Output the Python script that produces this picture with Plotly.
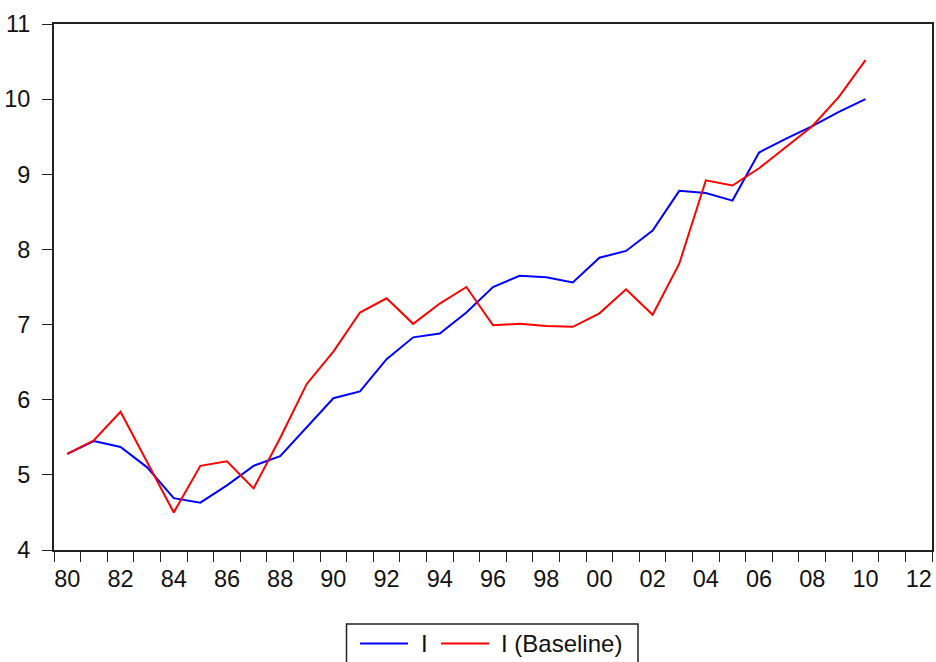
import plotly.graph_objects as go

years = list(range(1980, 2011))

i_actual = [5.28, 5.45, 5.37, 5.10, 4.69, 4.63, 4.86, 5.12, 5.25, 5.63,
            6.02, 6.11, 6.54, 6.83, 6.88, 7.16, 7.50, 7.65, 7.63, 7.56,
            7.89, 7.98, 8.25, 8.78, 8.75, 8.65, 9.29, 9.47, 9.64, 9.83,
            10.00]

i_baseline = [5.28, 5.46, 5.84, 5.16, 4.50, 5.12, 5.18, 4.82, 5.49, 6.21,
              6.64, 7.16, 7.35, 7.01, 7.28, 7.50, 6.99, 7.01, 6.98, 6.97,
              7.15, 7.47, 7.13, 7.81, 8.92, 8.85, 9.08, 9.36, 9.64, 10.03,
              10.52]

series_names = ["I", "I (Baseline)"]
series_colors = ["#0000ff", "#ff0000"]

label_years = list(range(1980, 2013, 2))
label_text = [f"{y % 100:02d}" for y in label_years]

# annual observations sit in the middle of each year's interval
x_mid = [y + 0.5 for y in years]

W, H = 936, 662
M_L, M_R, M_T, M_B = 54, 4, 24, 112
PLOT_W = W - M_L - M_R
PLOT_H = H - M_T - M_B


def px(x):
    """Page x pixel -> paper fraction."""
    return (x - M_L) / PLOT_W


def py(y):
    """Page y pixel -> paper fraction."""
    return (H - M_B - y) / PLOT_H


fig = go.Figure()
for vals, name, color in zip([i_actual, i_baseline], series_names, series_colors):
    fig.add_trace(go.Scatter(x=x_mid, y=vals, mode="lines", name=name,
                             line=dict(color=color, width=2), showlegend=False))

font_family = "Liberation Sans, Arial, sans-serif"

# framed legend box centred under the plot, open at the bottom edge of the page
shapes = [dict(type="rect", xref="paper", yref="paper",
               x0=px(346.5), x1=px(638), y0=py(690), y1=py(624),
               line=dict(color="#222222", width=1.5), fillcolor="white", layer="above")]
annotations = []
entries = [(360, 408, 419, series_names[0], series_colors[0]),
           (441, 489, 499, series_names[1], series_colors[1])]
for x0, x1, tx, name, color in entries:
    shapes.append(dict(type="line", xref="paper", yref="paper",
                       x0=px(x0), x1=px(x1), y0=py(643.5), y1=py(643.5),
                       line=dict(color=color, width=2)))
    annotations.append(dict(text=name, xref="paper", yref="paper",
                            x=px(tx), y=py(643), xanchor="left", yanchor="middle",
                            showarrow=False, font=dict(size=24, color="#111111")))

fig.update_layout(
    width=W, height=H,
    margin=dict(l=M_L, r=M_R, t=M_T, b=M_B, autoexpand=False),
    plot_bgcolor="white", paper_bgcolor="white",
    font=dict(family=font_family, size=23.5, color="#111111"),
    showlegend=False,
    shapes=shapes,
    annotations=annotations,
    xaxis=dict(
        range=[1980, 2013],
        tickmode="array", tickvals=[y + 0.5 for y in label_years], ticktext=label_text,
        ticks="", showgrid=False, zeroline=False,
        showline=True, linecolor="#222222", linewidth=2, mirror=True,
        ticklabelstandoff=7,
        minor=dict(tick0=1980, dtick=1, ticks="outside", ticklen=10,
                   tickcolor="#222222", tickwidth=1, showgrid=False),
    ),
    yaxis=dict(
        range=[4, 11], tickmode="linear", tick0=4, dtick=1,
        ticks="outside", ticklen=10, tickcolor="#222222", tickwidth=1,
        showgrid=False, zeroline=False,
        showline=True, linecolor="#222222", linewidth=2, mirror=True,
        ticklabelstandoff=7,
    ),
)

fig.write_html("out.html")
